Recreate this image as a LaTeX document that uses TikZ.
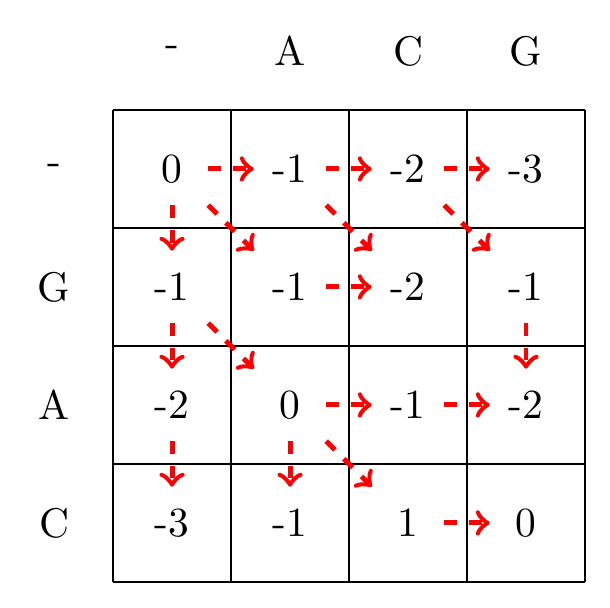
\documentclass[tikz,border=0pt]{standalone}
\usetikzlibrary{positioning}
\tikzset{
  cell/.style={rectangle, inner sep=0pt, minimum width=0.6cm, minimum height=0.6cm},
  head/.style={inner sep=0pt},
  move/.style={draw=red, very thick, dashed, ->},
}
\begin{document}
\begin{tikzpicture}
\useasboundingbox (-0.958,-4.220) rectangle (4.212,0.932);
\draw (0,0) grid (4,-4);

% sequence letters
\foreach \t [count=\j from 0] in {-,A,C,G}{
  \node[head] (h\j) at (\j+0.5,0.5) {\t};
}
\foreach \t [count=\i from 0] in {-,G,A,C}{
  \node[head] (r\i) at (-0.5,-\i-0.5) {\t};
}

% scores
\foreach \row [count=\i from 0] in {{0,-1,-2,-3},{-1,-1,-2,-1},{-2,0,-1,-2},{-3,-1,1,0}}{
  \foreach \v [count=\j from 0] in \row{
    \node[cell] (c\i\j) at (\j+0.5,-\i-0.5) {\v};
  }
}

% traceback moves
\foreach \a/\b in {00/01,01/02,02/03,00/11,01/12,02/13,00/10,
                   11/12,13/23,10/20,10/21,
                   21/22,22/23,20/30,21/31,21/32,
                   32/33}{
  \draw[move] (c\a) -- (c\b);
}
\end{tikzpicture}
\end{document}
